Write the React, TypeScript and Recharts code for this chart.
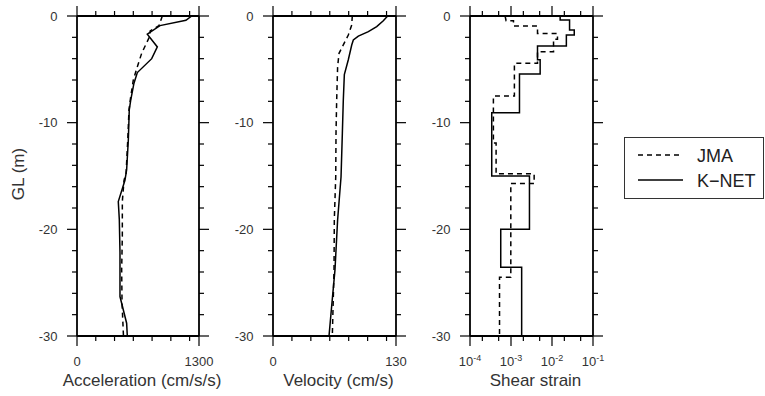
import React from 'react';
import { ScatterChart, Scatter, XAxis, YAxis } from 'recharts';

// ---------- ticks ----------
const depthTicks = [0, -2, -4, -6, -8, -10, -12, -14, -16, -18, -20, -22, -24, -26, -28, -30];
const depthLabeled = [0, -10, -20, -30];
const accTicks = [0, 200, 400, 600, 800, 1000, 1200, 1300];
const accLabeled = [0, 1300];
const velTicks = [0, 20, 40, 60, 80, 100, 120, 130];
const velLabeled = [0, 130];
const strainTicks = [1e-4, 2e-4, 5e-4, 1e-3, 2e-3, 5e-3, 1e-2, 2e-2, 5e-2, 1e-1];
const strainLabeled = [1e-4, 1e-3, 1e-2, 1e-1];
const strainExp = ['-4', '-3', '-2', '-1'];

// ---------- data ----------
const accKnetDepth = [0, -0.4, -0.9, -1.7, -2.9, -4.0, -5.3, -6.3, -7.9, -8.8, -11.6, -14.4, -15.4, -17.4, -19.1, -22.2, -26.3, -28.8, -30];
const accKnetValue = [1222, 1161, 884, 749, 856, 796, 643, 607, 572, 557, 547, 529, 511, 440, 451, 458, 458, 529, 536];
const accJmaDepth = [0, -0.9, -1.4, -1.9, -3.5, -4.75, -6.0, -7.6, -8.8, -11.6, -14.75, -15.4, -17.4, -20.6, -23.8, -26.9, -30];
const accJmaValue = [909, 874, 780, 775, 689, 643, 600, 572, 554, 541, 523, 501, 483, 483, 476, 480, 495];

const velKnetDepth = [0, -0.44, -1.0, -1.47, -1.88, -2.25, -2.72, -4.1, -5.5, -7.9, -11, -15.1, -19.1, -23.8, -27.9, -30];
const velKnetValue = [121.2, 116.6, 109.6, 100.8, 90.2, 84.9, 83.2, 79.6, 75.4, 74.3, 73.3, 71.9, 68.3, 65.5, 61.3, 59.2];
const velJmaDepth = [0, -0.84, -1.78, -2.88, -3.5, -4.75, -7.9, -11, -15.1, -19.1, -23.8, -30];
const velJmaValue = [83.8, 83.2, 79.6, 73.3, 69.8, 68.3, 67.3, 66.6, 66.3, 64.8, 64.5, 62.7];

const strainKnetDepth = [0, -0.375, -0.375, -1.31, -1.31, -1.78, -1.78, -2.81, -2.81, -4.1, -4.1, -5.44, -5.44, -9.06, -9.06, -15.0, -15.0, -20.0, -20.0, -23.56, -23.56, -30];
const strainKnetValue = [0.0158, 0.0158, 0.0268, 0.0268, 0.0349, 0.0349, 0.0224, 0.0224, 0.00443, 0.00443, 0.00514, 0.00514, 0.00161, 0.00161, 0.000339, 0.000339, 0.00282, 0.00282, 0.000562, 0.000562, 0.00182, 0.00182];
const strainJmaDepth = [0, -0.44, -0.44, -0.94, -0.94, -1.63, -1.63, -2.19, -2.19, -3.34, -3.34, -4.44, -4.44, -7.5, -7.5, -11.9, -11.9, -14.8, -14.8, -15.7, -15.7, -24.5, -24.5, -30];
const strainJmaValue = [0.000718, 0.000759, 0.00115, 0.00115, 0.00443, 0.00443, 0.0136, 0.0136, 0.0109, 0.0109, 0.00443, 0.00443, 0.00121, 0.00121, 0.000372, 0.000372, 0.000433, 0.000433, 0.00367, 0.00367, 0.000989, 0.000989, 0.000525, 0.000525];

const zip = (d: number[], v: number[]) => d.map((depth, i) => ({ depth, value: v[i] }));

const FONT = '"Liberation Sans", Arial, sans-serif';
const TXT = '#333';
const W = 765;
const H = 396;
const TOP = 16;
const BOTTOM = 336;

const leftTick = (labeled: number[]) => (p: any) => {
  const major = labeled.includes(p.payload.value);
  const len = major ? 10 : 5;
  return (
    <g>
      <line x1={p.x} y1={p.y} x2={p.x - len} y2={p.y} stroke="#000" strokeWidth={1.2} />
      {major && (
        <text x={p.x - len - 9.5} y={p.y} textAnchor="end" dominantBaseline="central" fontSize={13} fontFamily={FONT} fill={TXT}>
          {p.payload.value}
        </text>
      )}
    </g>
  );
};
const rightTick = (labeled: number[]) => (p: any) => {
  const major = labeled.includes(p.payload.value);
  const len = major ? 10 : 5;
  return <line x1={p.x} y1={p.y} x2={p.x + len} y2={p.y} stroke="#000" strokeWidth={1.2} />;
};
const topTick = (labeled: number[]) => (p: any) => {
  const major = labeled.includes(p.payload.value);
  const len = major ? 10 : 5;
  return <line x1={p.x} y1={p.y} x2={p.x} y2={p.y - len} stroke="#000" strokeWidth={1.2} />;
};
const bottomTick = (labeled: number[], fmt?: (v: number) => React.ReactNode) => (p: any) => {
  const idx = labeled.indexOf(p.payload.value);
  const major = idx >= 0;
  const len = major ? 10 : 5;
  return (
    <g>
      <line x1={p.x} y1={p.y} x2={p.x} y2={p.y + len} stroke="#000" strokeWidth={1.2} />
      {major && (
        <text x={p.x} y={p.y + 30} textAnchor="middle" fontSize={13} fontFamily={FONT} fill={TXT}>
          {fmt ? fmt(idx) : p.payload.value}
        </text>
      )}
    </g>
  );
};
const expFmt = (i: number) => (
  <>
    <tspan>10</tspan>
    <tspan dy={-5} fontSize={9}>{strainExp[i]}</tspan>
  </>
);

const xTitle = (title: string, cx: number) => () => (
  <text x={cx + 4} y={386} textAnchor="middle" fontSize={17} fontFamily={FONT} fill={TXT}>
    {title}
  </text>
);
const yTitle = () => {
  const cx = 18.5;
  const cy = (TOP + BOTTOM) / 2 - 2;
  return (
    <text x={cx} y={cy} transform={`rotate(-90 ${cx} ${cy})`} textAnchor="middle" dominantBaseline="central" fontSize={17} fontFamily={FONT} fill={TXT}>
      GL (m)
    </text>
  );
};

const AXIS_LINE = { stroke: '#000', strokeWidth: 1.8 };

type PanelProps = {
  left: number;
  right: number;
  domain: [number, number];
  ticks: number[];
  labeled: number[];
  log?: boolean;
  fmt?: (i: number) => React.ReactNode;
  title: string;
  knet: { depth: number; value: number }[];
  jma: { depth: number; value: number }[];
  showYTitle?: boolean;
};

const Panel = ({ left, right, domain, ticks, labeled, log, fmt, title, knet, jma, showYTitle }: PanelProps) => (
  <div style={{ position: 'absolute', left: 0, top: 0 }}>
    <ScatterChart width={W} height={H} margin={{ top: TOP - 1, bottom: H - BOTTOM - 1, left: left - 1, right: W - right - 1 }}>
      <XAxis
        xAxisId="b"
        type="number"
        dataKey="value"
        orientation="bottom"
        scale={log ? 'log' : 'linear'}
        domain={domain}
        allowDataOverflow
        ticks={ticks}
        interval={0}
        height={1}
        tickSize={0}
        tickMargin={0}
        tickLine={false}
        axisLine={AXIS_LINE}
        tick={bottomTick(labeled, fmt)}
        label={xTitle(title, (left + right) / 2)}
      />
      <XAxis
        xAxisId="t"
        type="number"
        dataKey="value"
        orientation="top"
        scale={log ? 'log' : 'linear'}
        domain={domain}
        allowDataOverflow
        ticks={ticks}
        interval={0}
        height={1}
        tickSize={0}
        tickMargin={0}
        tickLine={false}
        axisLine={AXIS_LINE}
        tick={topTick(labeled)}
      />
      <YAxis
        yAxisId="l"
        type="number"
        dataKey="depth"
        orientation="left"
        domain={[-30, 0]}
        allowDataOverflow
        ticks={depthTicks}
        interval={0}
        width={1}
        tickSize={0}
        tickMargin={0}
        tickLine={false}
        axisLine={AXIS_LINE}
        tick={leftTick(depthLabeled)}
        label={showYTitle ? yTitle : undefined}
      />
      <YAxis
        yAxisId="r"
        type="number"
        dataKey="depth"
        orientation="right"
        domain={[-30, 0]}
        allowDataOverflow
        ticks={depthTicks}
        interval={0}
        width={1}
        tickSize={0}
        tickMargin={0}
        tickLine={false}
        axisLine={AXIS_LINE}
        tick={rightTick(depthLabeled)}
      />
      <Scatter
        name="JMA"
        data={jma}
        xAxisId="b"
        yAxisId="l"
        line={{ stroke: '#000', strokeWidth: 1.5, strokeDasharray: '5 4' }}
        lineType="joint"
        shape={() => <g />}
        isAnimationActive={false}
      />
      <Scatter
        name="K-NET"
        data={knet}
        xAxisId="b"
        yAxisId="l"
        line={{ stroke: '#000', strokeWidth: 1.5 }}
        lineType="joint"
        shape={() => <g />}
        isAnimationActive={false}
      />
      <Scatter data={[]} xAxisId="t" yAxisId="r" isAnimationActive={false} />
    </ScatterChart>
  </div>
);

const LegendBox = () => (
  <svg width={W} height={H} style={{ position: 'absolute', left: 0, top: 0, pointerEvents: 'none' }}>
    <rect x={624.5} y={137.5} width={139} height={61} fill="#fff" stroke="#333" strokeWidth={1} />
    <line x1={638} y1={155} x2={683} y2={155} stroke="#000" strokeWidth={1.5} strokeDasharray="5 4" />
    <text x={697} y={161.5} fontSize={18} fontFamily={FONT} fill="#222">JMA</text>
    <line x1={638} y1={180} x2={683} y2={180} stroke="#000" strokeWidth={1.5} />
    <text x={697} y={186.5} fontSize={18} fontFamily={FONT} fill="#222">K−NET</text>
  </svg>
);

export default function App() {
  return (
    <div style={{ position: 'absolute', left: 0, top: 0, width: W, height: H, background: '#fff', overflow: 'hidden' }}>
      <Panel left={77} right={199} domain={[0, 1300]} ticks={accTicks} labeled={accLabeled} title="Acceleration (cm/s/s)"
        knet={zip(accKnetDepth, accKnetValue)} jma={zip(accJmaDepth, accJmaValue)} showYTitle />
      <Panel left={273} right={396} domain={[0, 130]} ticks={velTicks} labeled={velLabeled} title="Velocity (cm/s)"
        knet={zip(velKnetDepth, velKnetValue)} jma={zip(velJmaDepth, velJmaValue)} />
      <Panel left={470} right={593} domain={[1e-4, 1e-1]} ticks={strainTicks} labeled={strainLabeled} log fmt={expFmt} title="Shear strain"
        knet={zip(strainKnetDepth, strainKnetValue)} jma={zip(strainJmaDepth, strainJmaValue)} />
      <LegendBox />
    </div>
  );
}
